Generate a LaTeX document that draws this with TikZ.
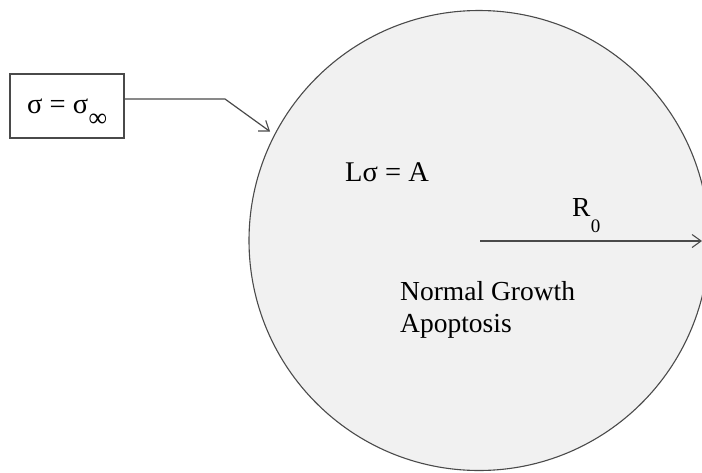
\documentclass[tikz,border=0pt]{standalone}
\usepackage{fontspec}
\setmainfont{Liberation Serif}
\usetikzlibrary{arrows.meta}
\definecolor{linegray}{HTML}{4A4A4A}
\definecolor{fillgray}{HTML}{F1F1F1}
\tikzset{
  lbl/.style={inner sep=0pt, anchor=base west, font=\fontsize{27.5}{33}\selectfont},
  sub/.style={inner sep=0pt, anchor=base west, font=\fontsize{19}{23}\selectfont},
  conn/.style={draw=linegray, line width=1.2pt, -{Straight Barb[length=9pt,width=13pt,line width=1.1pt]}},
}
\begin{document}
\begin{tikzpicture}[x=1pt,y=-1pt]
\useasboundingbox (0,0) rectangle (702,472);
\clip (0,0) rectangle (702,472);
\draw[fill=fillgray, draw=linegray, line width=1.1pt] (479,240.5) circle[radius=230];
\node[draw=linegray, line width=1.2pt, minimum width=114pt, minimum height=64pt, inner sep=0pt] (box) at (67,106) {};
\node[lbl, font=\fontsize{28.5}{33}\selectfont] (s1) at (27,113) {σ = σ};
\node[sub, font=\fontsize{26}{30}\selectfont] (inf) at (s1.base east) [yshift=-13pt] {∞};
\coordinate (bend) at (225,99);
\coordinate (tip) at (270,131.5);
\draw[conn] (box.east |- bend) -- (bend) -- (tip);
\node[lbl, font=\fontsize{28.5}{33}\selectfont] (eq) at (345,181) {Lσ = A};
\coordinate (c0) at (480,241);
\coordinate (cR) at (702,241);
\draw[conn] (c0) -- (cR);
\node[lbl] (R) at (572,216) {R};
\node[sub] (R0) at (R.base east) [yshift=-16pt] {0};
\node[lbl] (txt1) at (400,300) {Normal Growth};
\node[lbl] (txt2) at (400,332) {Apoptosis};
\end{tikzpicture}
\end{document}
